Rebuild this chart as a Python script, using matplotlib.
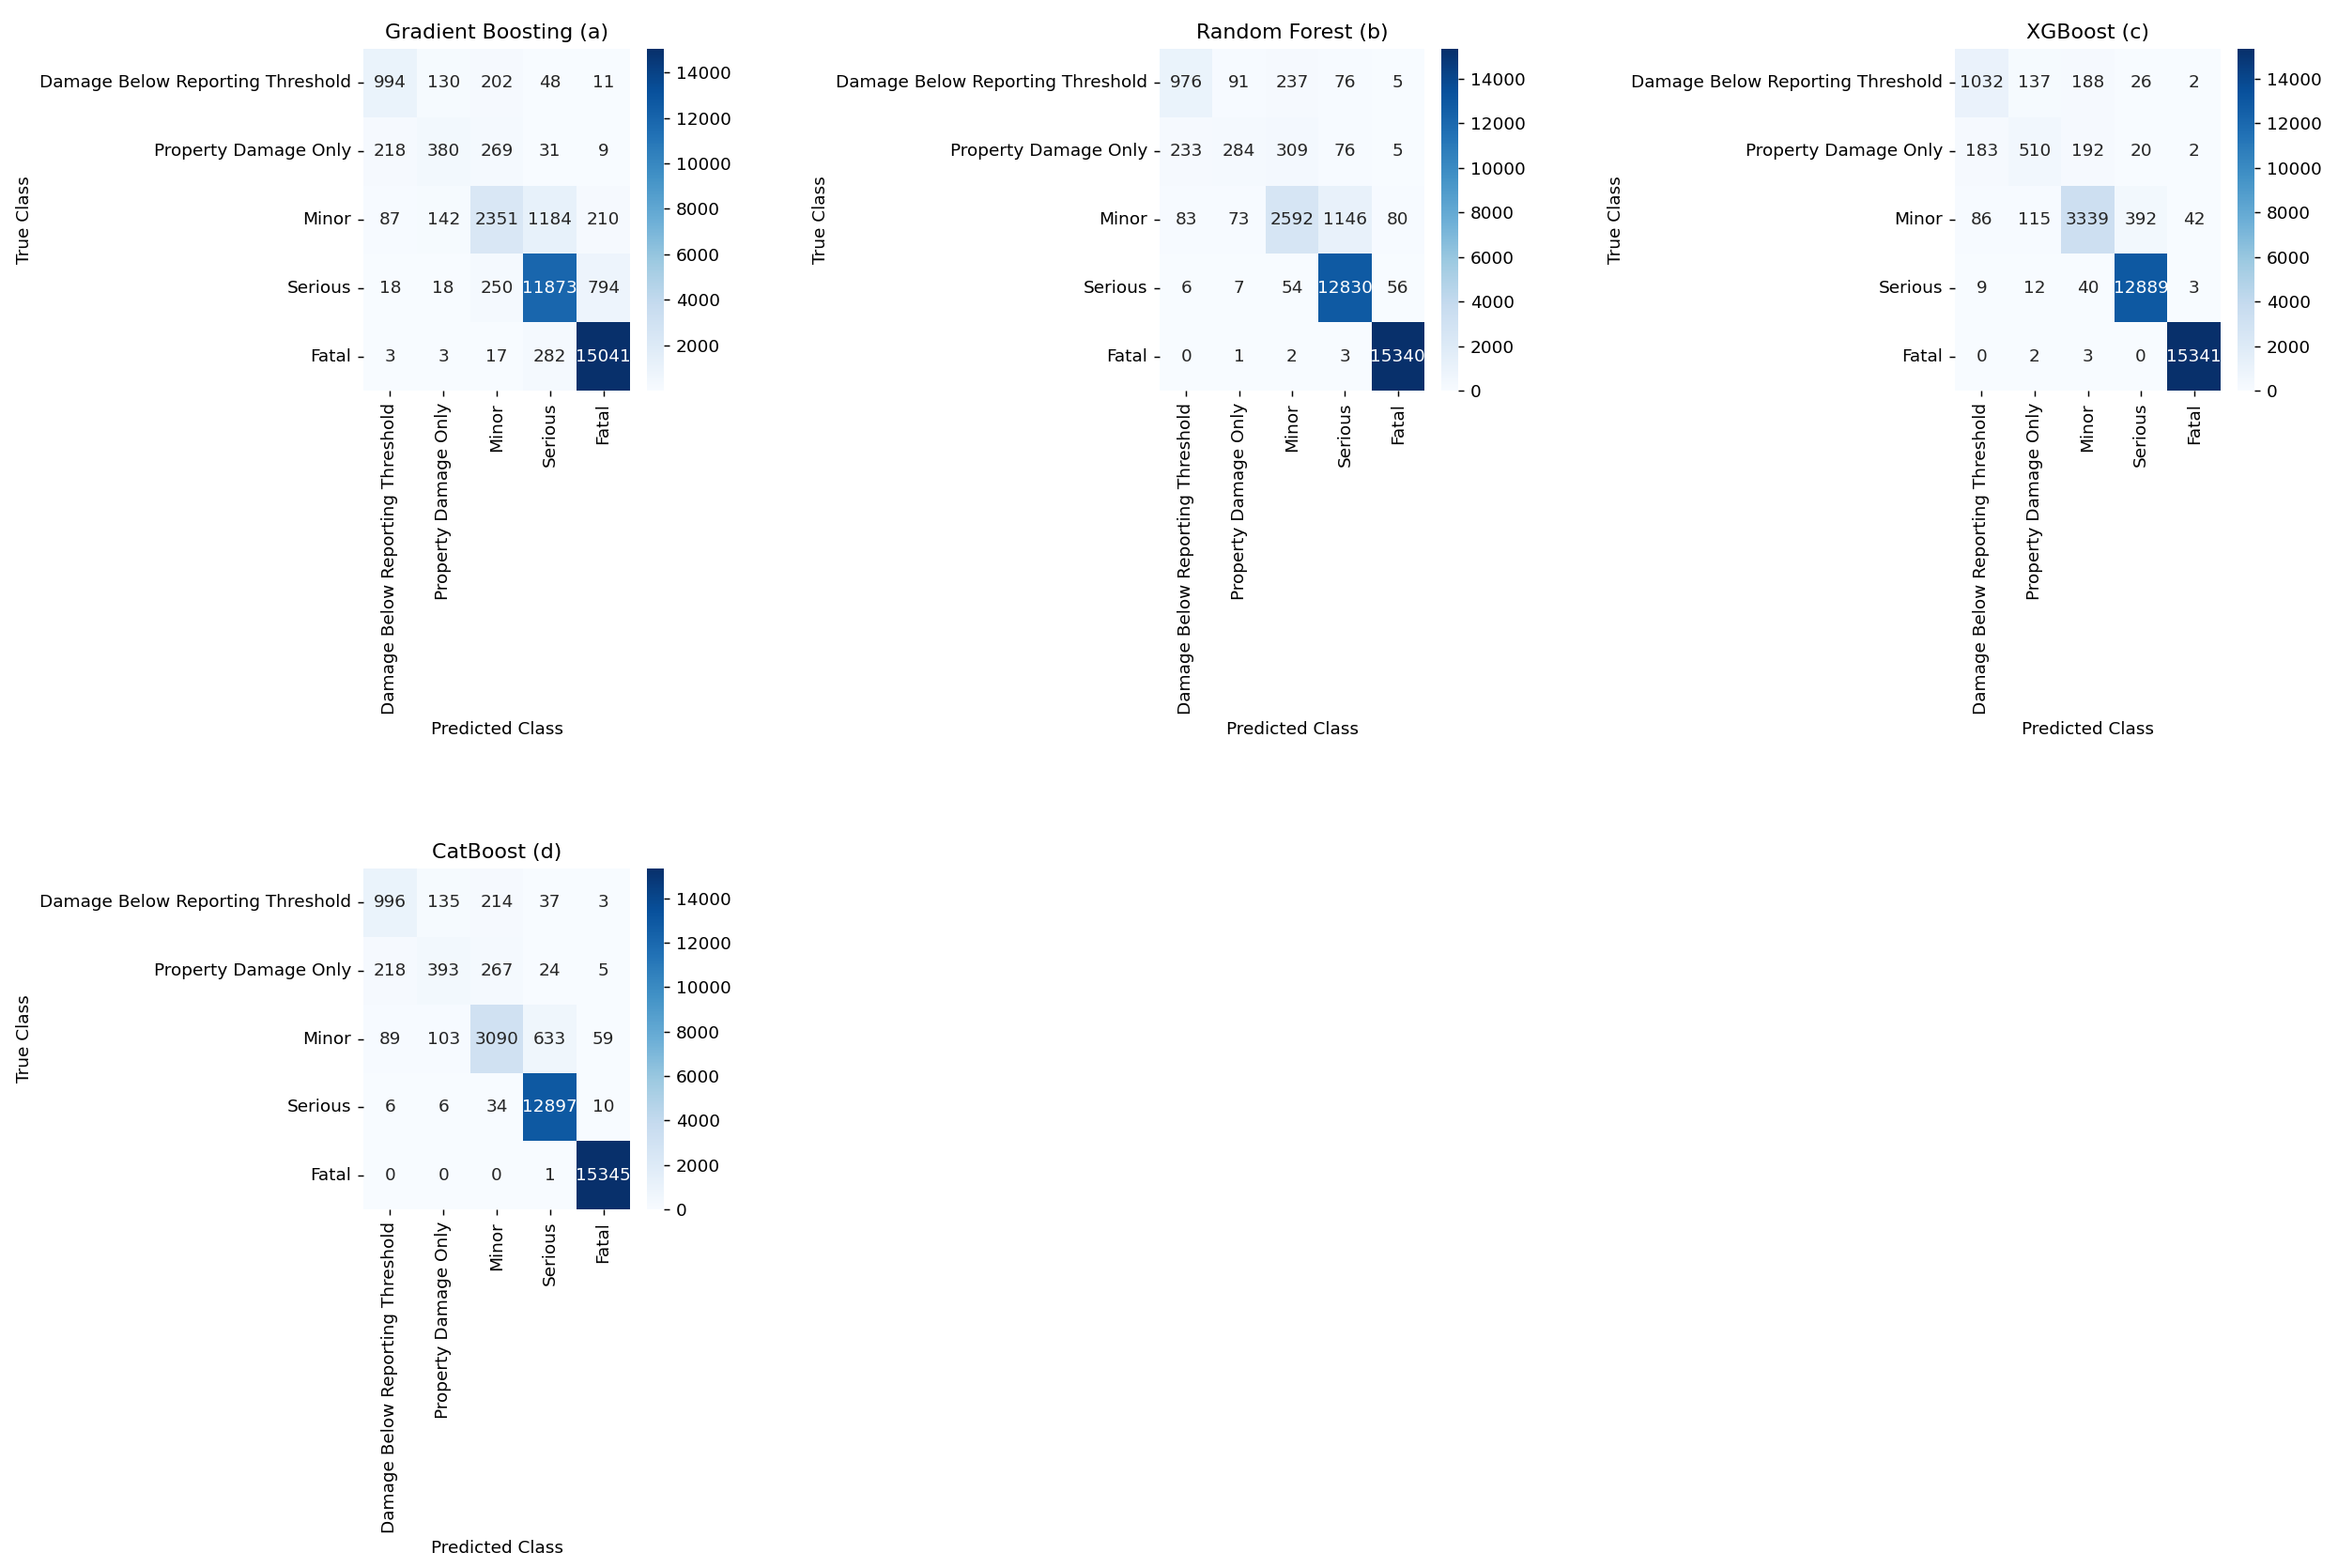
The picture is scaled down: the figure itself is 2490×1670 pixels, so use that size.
import numpy as np
import matplotlib
matplotlib.use("Agg")
import matplotlib.pyplot as plt
import seaborn as sns

classes = ["Damage Below Reporting Threshold", "Property Damage Only", "Minor", "Serious", "Fatal"]

titles = ["Gradient Boosting (a)", "Random Forest (b)", "XGBoost (c)", "CatBoost (d)"]

cm_gb = [[994, 130, 202, 48, 11],
         [218, 380, 269, 31, 9],
         [87, 142, 2351, 1184, 210],
         [18, 18, 250, 11873, 794],
         [3, 3, 17, 282, 15041]]

cm_rf = [[976, 91, 237, 76, 5],
         [233, 284, 309, 76, 5],
         [83, 73, 2592, 1146, 80],
         [6, 7, 54, 12830, 56],
         [0, 1, 2, 3, 15340]]

cm_xgb = [[1032, 137, 188, 26, 2],
          [183, 510, 192, 20, 2],
          [86, 115, 3339, 392, 42],
          [9, 12, 40, 12889, 3],
          [0, 2, 3, 0, 15341]]

cm_cat = [[996, 135, 214, 37, 3],
          [218, 393, 267, 24, 5],
          [89, 103, 3090, 633, 59],
          [6, 6, 34, 12897, 10],
          [0, 0, 0, 1, 15345]]

matrices = [cm_gb, cm_rf, cm_xgb, cm_cat]

W, H = 2490, 1670
DPI = 133
fig = plt.figure(figsize=(W / DPI, H / DPI), dpi=DPI)

# pixel boxes: (left, top, right, bottom) for heatmap, cbar left/right
boxes = [
    (387, 52, 671, 416, 689, 707),
    (1235, 52, 1517, 416, 1535, 1553),
    (2082, 52, 2365, 416, 2383, 2401),
    (387, 925, 671, 1288, 689, 707),
]

def frac(l, t, r, b):
    return [l / W, 1 - b / H, (r - l) / W, (b - t) / H]

for cm, title, (l, t, r, b, cl, cr) in zip(matrices, titles, boxes):
    ax = fig.add_axes(frac(l, t, r, b))
    cax = fig.add_axes(frac(cl, t, cr, b))
    sns.heatmap(np.array(cm), annot=True, fmt="d", cmap="Blues", ax=ax, cbar_ax=cax,
                xticklabels=classes, yticklabels=classes)
    ax.set_title(title, fontsize=12)
    ax.set_xlabel("Predicted Class")
    ax.set_ylabel("True Class")
    ax.tick_params(axis="x", rotation=90)
    ax.tick_params(axis="y", rotation=0)

fig.savefig("out.png", dpi=DPI)
